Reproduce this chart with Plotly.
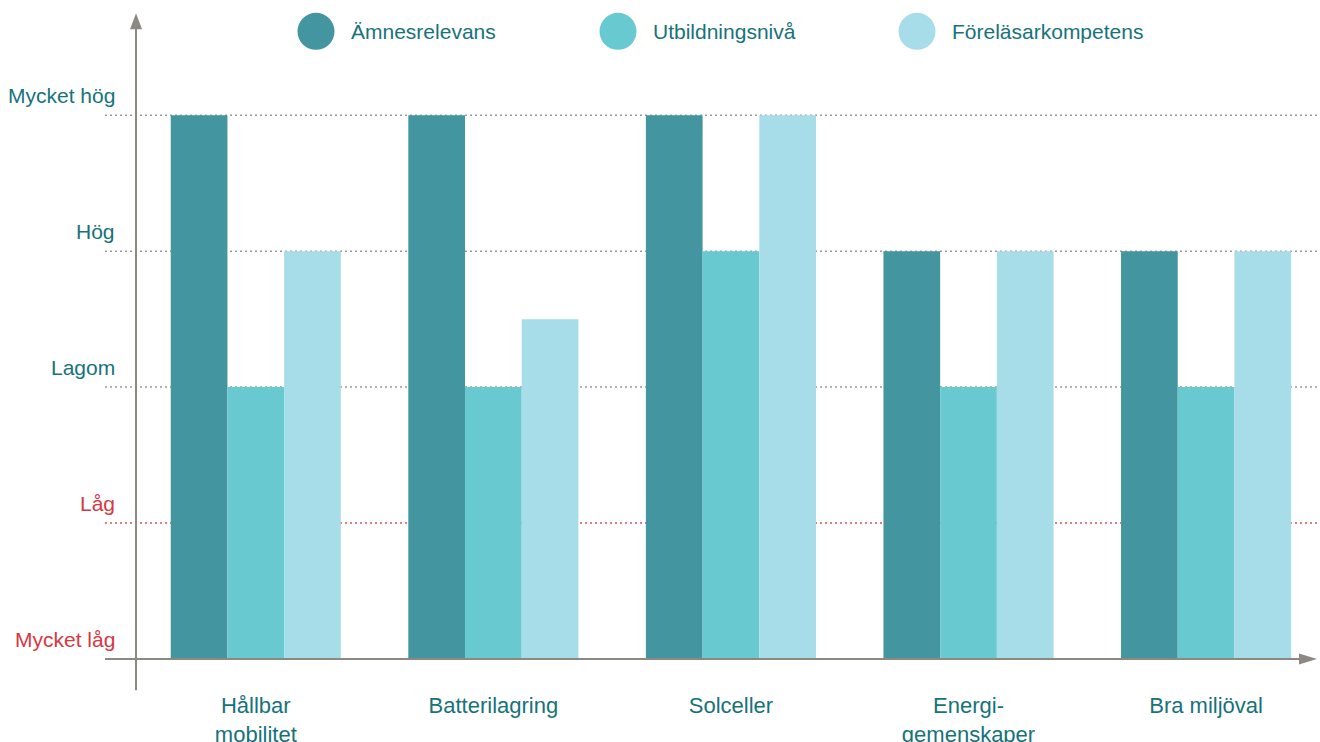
import plotly.graph_objects as go

categories = ["Hållbar<br>mobilitet", "Batterilagring", "Solceller", "Energi-<br>gemenskaper", "Bra miljöval"]
series_names = ["Ämnesrelevans", "Utbildningsnivå", "Föreläsarkompetens"]
amnesrelevans = [4, 4, 4, 3, 3]
utbildningsniva = [2, 2, 3, 2, 2]
forelasarkompetens = [3, 2.5, 4, 3, 3]
level_labels = ["Mycket låg", "Låg", "Lagom", "Hög", "Mycket hög"]
level_values = [0, 1, 2, 3, 4]

colors = ["#4396a0", "#69c9d1", "#a6dde9"]
TEAL = "#16737a"
RED = "#d7373f"
AXIS = "#8a8a82"
FONT = "Arial, Liberation Sans, sans-serif"

W = 1320
H = 754            # page height (photo is squeezed to 742)
S = H / 742.0      # reference-y -> page-y
# plot area in reference pixels: x 137..1313, y 15..688
L, R = 137, W - 1313
T, B = round(15 * S), round(H - 688 * S)
PW, PH = W - L - R, H - T - B


def px(x):
    return (x - L) / PW


def py(y):
    return (H - B - y * S) / PH


fig = go.Figure()
for name, vals, c in zip(series_names, [amnesrelevans, utbildningsniva, forelasarkompetens], colors):
    fig.add_trace(go.Bar(x=list(range(len(categories))), y=vals, name=name,
                         marker=dict(color=c, line=dict(width=0)), showlegend=False))

shapes = []
annotations = []
for v, lab in zip(level_values, level_labels):
    col = TEAL if v >= 2 else RED
    if v > 0:
        shapes.append(dict(type="line", xref="paper", yref="y", x0=px(105), x1=px(1318), y0=v, y1=v,
                           line=dict(color="#d9534f" if v == 1 else "#9a9a9a", width=1.5, dash="2px,3px"),
                           layer="below"))
    annotations.append(dict(xref="paper", yref="y", x=px(117), y=v, xanchor="right", yanchor="middle",
                            yshift=19 * S, text=lab, showarrow=False, font=dict(family=FONT, size=21, color=col)))

# axes with arrows
shapes.append(dict(type="line", xref="paper", yref="paper", x0=px(136), x1=px(136), y0=py(688), y1=py(28),
                   line=dict(color=AXIS, width=2)))
shapes.append(dict(type="path", xref="paper", yref="paper",
                   path=f"M {px(130)} {py(29)} L {px(136)} {py(13)} L {px(142)} {py(29)} Z",
                   fillcolor=AXIS, line=dict(width=0)))
shapes.append(dict(type="line", xref="paper", yref="y", x0=px(105), x1=px(1300), y0=0, y1=0,
                   line=dict(color=AXIS, width=2)))
shapes.append(dict(type="path", xref="paper", yref="paper",
                   path=f"M {px(1299)} {py(651.5)} L {px(1317)} {py(657)} L {px(1299)} {py(662.5)} Z",
                   fillcolor=AXIS, line=dict(width=0)))

# legend
legend_cx = [316, 618, 917]
for cx, name, c in zip(legend_cx, series_names, colors):
    shapes.append(dict(type="circle", xref="paper", yref="paper", x0=px(cx - 18.5), x1=px(cx + 18.5),
                       y0=py(31 + 18.5), y1=py(31 - 18.5), fillcolor=c, line=dict(width=0)))
    annotations.append(dict(xref="paper", yref="paper", x=px(cx + 33), y=py(31), xanchor="left", yanchor="middle",
                            text=name, showarrow=False, font=dict(family=FONT, size=21, color=TEAL)))

fig.update_layout(
    width=W, height=H,
    margin=dict(l=L, r=R, t=T, b=B, pad=0),
    paper_bgcolor="white", plot_bgcolor="rgba(0,0,0,0)",
    barmode="group", bargap=0.284, bargroupgap=0,
    font=dict(family=FONT, color=TEAL),
    xaxis=dict(range=[-0.5, 4.45], tickmode="array", tickvals=list(range(len(categories))), ticktext=categories,
               showgrid=False, zeroline=False, showline=False, ticks="",
               tickfont=dict(family=FONT, size=22, color=TEAL)),
    yaxis=dict(range=[-(688 - 657) / 135.5, (657 - 15) / 135.5], showgrid=False, zeroline=False,
               showline=False, showticklabels=False, ticks=""),
    shapes=shapes, annotations=annotations, showlegend=False,
)

fig.write_html("out.html", config={"displayModeBar": False},
               post_script="document.body.style.margin='0';document.documentElement.style.overflow='hidden';")
